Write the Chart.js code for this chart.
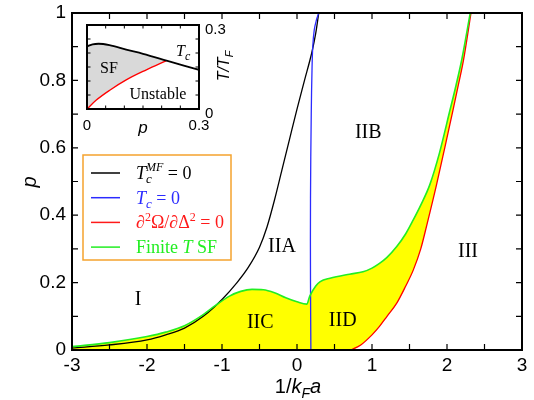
<!DOCTYPE html>
<html>
<head>
<meta charset="utf-8">
<script src="https://cdn.jsdelivr.net/npm/chart.js@4.4.1/dist/chart.umd.min.js"></script>
<style>
  body { margin: 0; background: #fff; }
  #wrap { position: relative; width: 534px; height: 400px; }
  #wrap canvas { position: absolute; left: 0; top: 0; }
</style>
</head>
<body>
<div id="wrap">
  <canvas id="phase" width="534" height="400"></canvas>
  <canvas id="inset" width="534" height="400"></canvas>
</div>
<script>
// main diagram, p against 1/kFa
const blackX = [-3, -2.5, -2, -1.75, -1.5, -1.25, -1, -0.8, -0.65, -0.5, -0.4, -0.3, -0.2, -0.1, 0, 0.1, 0.2, 0.25, 0.29];
const blackP = [0.006, 0.015, 0.03, 0.045, 0.065, 0.1, 0.15, 0.2, 0.245, 0.305, 0.365, 0.445, 0.535, 0.625, 0.715, 0.8, 0.885, 0.94, 1.0];

const blueX = [0.185, 0.18, 0.18, 0.19, 0.2, 0.21, 0.23, 0.26, 0.29];
const blueP = [0, 0.2, 0.45, 0.7, 0.83, 0.9, 0.95, 0.98, 1.0];

const redX = [0.72, 0.85, 1.0, 1.1, 1.2, 1.33, 1.45, 1.55, 1.65, 1.73, 1.86, 1.97, 2.08, 2.15, 2.22, 2.32];
const redP = [0, 0.015, 0.045, 0.07, 0.1, 0.139, 0.19, 0.237, 0.3, 0.37, 0.49, 0.6, 0.712, 0.785, 0.86, 1.0];

const greenX = [-3, -2.5, -2, -1.75, -1.5, -1.25, -1.1, -0.9, -0.75, -0.6, -0.45, -0.3, -0.15, 0, 0.13, 0.17, 0.25, 0.31, 0.44, 0.7, 0.88, 1.0, 1.1, 1.2, 1.33, 1.45, 1.55, 1.65, 1.77, 1.9, 2.04, 2.12, 2.2, 2.31];
const greenP = [0.01, 0.022, 0.04, 0.053, 0.072, 0.105, 0.13, 0.16, 0.174, 0.18, 0.179, 0.17, 0.155, 0.143, 0.136, 0.16, 0.19, 0.203, 0.213, 0.225, 0.232, 0.243, 0.257, 0.275, 0.307, 0.345, 0.386, 0.43, 0.49, 0.585, 0.712, 0.785, 0.865, 1.0];

const regionNames = ['I', 'IIA', 'IIB', 'IIC', 'IID', 'III'];
const regionX = [-2.12, -0.2, 0.95, -0.49, 0.61, 2.28];
const regionP = [0.148, 0.307, 0.645, 0.08, 0.086, 0.292];

const xLabels = [-3, -2, -1, 0, 1, 2, 3];
const yLabels = [0, 0.2, 0.4, 0.6, 0.8, 1];
const xTickMarks = [-3, -2.5, -2, -1.5, -1, -0.5, 0, 0.5, 1, 1.5, 2, 2.5, 3];
const yTickMarks = [0, 0.1, 0.2, 0.3, 0.4, 0.5, 0.6, 0.7, 0.8, 0.9, 1];

// inset, T/TF against p
const tcP = [0, 0.015, 0.031, 0.06, 0.105, 0.15, 0.213, 0.257, 0.3];
const tcT = [0.224, 0.231, 0.233, 0.228, 0.212, 0.197, 0.173, 0.156, 0.14];
const spinP = [0, 0.025, 0.062, 0.105, 0.159, 0.213];
const spinT = [0, 0.032, 0.068, 0.104, 0.14, 0.173];
const insetTickMarks = [0, 0.05, 0.1, 0.15, 0.2, 0.25, 0.3];
const insetLabels = [0, 0.3];

const SANS = '"Liberation Sans", Arial, Helvetica, sans-serif';
const SERIF = '"Liberation Serif", "Times New Roman", serif';

const pts = (xs, ys) => xs.map((v, i) => ({ x: v, y: ys[i] }));

function richText(ctx, x, y, parts, color) {
  ctx.fillStyle = color;
  ctx.textAlign = 'left';
  ctx.textBaseline = 'alphabetic';
  let cx = x;
  parts.forEach(p => {
    ctx.font = (p.it ? 'italic ' : '') + (p.size || 18) + 'px ' + (p.fam || SERIF);
    ctx.fillText(p.t, cx, y + (p.dy || 0));
    if (!p.keep) cx += ctx.measureText(p.t).width;
  });
  return cx - x;
}

const legendRows = [
  { color: '#000000', parts: [{ t: 'T', it: 1 }, { t: 'c', it: 1, size: 13, dy: 4, keep: 1 }, { t: 'MF', it: 1, size: 12, dy: -8 }, { t: ' = 0' }] },
  { color: '#2b2bff', parts: [{ t: 'T', it: 1 }, { t: 'c', it: 1, size: 13, dy: 4 }, { t: ' = 0' }] },
  { color: '#ff1a1a', parts: [{ t: '\u2202' }, { t: '2', size: 12, dy: -7 }, { t: '\u03A9/\u2202\u0394' }, { t: '2', size: 12, dy: -7 }, { t: ' = 0' }] },
  { color: '#22ee22', parts: [{ t: 'Finite ' }, { t: 'T', it: 1 }, { t: ' SF' }] }
];

const frameAndMarks = {
  id: 'frameAndMarks',
  afterDatasetsDraw(chart) {
    const { ctx, chartArea: a, scales: { x, y } } = chart;
    ctx.save();
    // inward ticks on all four sides
    ctx.strokeStyle = '#000';
    ctx.lineWidth = 1.2;
    ctx.beginPath();
    xTickMarks.forEach(v => {
      const px = x.getPixelForValue(v);
      ctx.moveTo(px, a.bottom); ctx.lineTo(px, a.bottom - 6);
      ctx.moveTo(px, a.top); ctx.lineTo(px, a.top + 6);
    });
    yTickMarks.forEach(v => {
      const py = y.getPixelForValue(v);
      ctx.moveTo(a.left, py); ctx.lineTo(a.left + 6, py);
      ctx.moveTo(a.right, py); ctx.lineTo(a.right - 6, py);
    });
    ctx.stroke();
    ctx.lineWidth = 2;
    ctx.strokeRect(a.left, a.top, a.right - a.left, a.bottom - a.top);

    // region names
    ctx.fillStyle = '#000';
    ctx.font = '20px ' + SERIF;
    ctx.textAlign = 'center';
    ctx.textBaseline = 'middle';
    regionNames.forEach((n, i) => {
      ctx.fillText(n, x.getPixelForValue(regionX[i]), y.getPixelForValue(regionP[i]));
    });

    // legend box
    ctx.fillStyle = '#fff';
    ctx.fillRect(83, 155, 148, 105);
    ctx.strokeStyle = '#f5a32e';
    ctx.lineWidth = 1.5;
    ctx.strokeRect(83, 155, 148, 105);
    legendRows.forEach((r, i) => {
      const ly = 173 + i * 24.7;
      ctx.strokeStyle = r.color;
      ctx.lineWidth = 1.5;
      ctx.beginPath();
      ctx.moveTo(91, ly); ctx.lineTo(120, ly);
      ctx.stroke();
      richText(ctx, 136, ly + 6, r.parts, r.color);
    });

    // axis titles
    const xt = [{ t: '1/', size: 20, fam: SANS }, { t: 'k', it: 1, size: 20, fam: SANS }, { t: 'F', it: 1, size: 14, dy: 5, fam: SANS }, { t: 'a', it: 1, size: 20, fam: SANS }];
    ctx.globalAlpha = 0;
    const w = richText(ctx, 0, -100, xt, '#000');
    ctx.globalAlpha = 1;
    richText(ctx, 298 - w / 2, 393, xt, '#000');

    ctx.translate(30, 182);
    ctx.rotate(-Math.PI / 2);
    ctx.fillStyle = '#000';
    ctx.font = 'italic 20px ' + SANS;
    ctx.textAlign = 'center';
    ctx.textBaseline = 'middle';
    ctx.fillText('p', 0, 0);
    ctx.restore();
  }
};

new Chart(document.getElementById('phase'), {
  type: 'line',
  data: {
    datasets: [
      { label: 'Finite T SF', data: pts(greenX, greenP), borderColor: '#22ee22', borderWidth: 1.6,
        fill: { target: 4, above: '#ffff00', below: '#ffff00' }, cubicInterpolationMode: 'monotone' },
      { label: 'd2Omega', data: pts(redX, redP), borderColor: '#ff0000', borderWidth: 1.3, cubicInterpolationMode: 'monotone' },
      { label: 'Tc = 0', data: pts(blueX, blueP), borderColor: '#2b2bff', borderWidth: 1.3, tension: 0.4 },
      { label: 'TcMF = 0', data: pts(blackX, blackP), borderColor: '#000000', borderWidth: 1.3, cubicInterpolationMode: 'monotone' },
      { label: 'lower', data: pts([-3, ...redX], [0, ...redP]), borderColor: 'rgba(0,0,0,0)', borderWidth: 0, cubicInterpolationMode: 'monotone' }
    ]
  },
  options: {
    responsive: false,
    animation: false,
    devicePixelRatio: 1,
    events: [],
    layout: { padding: { top: 13, right: 12, left: 0, bottom: 0 } },
    elements: { point: { radius: 0 } },
    plugins: {
      legend: { display: false },
      tooltip: { enabled: false },
      filler: { drawTime: 'beforeDatasetsDraw' }
    },
    scales: {
      x: {
        type: 'linear', min: -3, max: 3,
        afterBuildTicks: s => { s.ticks = xLabels.map(v => ({ value: v })); },
        afterFit: s => { s.height = 50; s.paddingLeft = 0; s.paddingRight = 0; },
        grid: { display: false, drawTicks: false },
        border: { display: false },
        ticks: { font: { family: SANS, size: 19 }, color: '#000', padding: 4, maxRotation: 0, autoSkip: false, callback: v => String(v) }
      },
      y: {
        type: 'linear', min: 0, max: 1,
        afterBuildTicks: s => { s.ticks = yLabels.map(v => ({ value: v })); },
        afterFit: s => { s.width = 72; s.paddingTop = 0; s.paddingBottom = 0; },
        grid: { display: false, drawTicks: false },
        border: { display: false },
        ticks: { font: { family: SANS, size: 19 }, color: '#000', padding: 6, autoSkip: false, callback: v => String(v) }
      }
    }
  },
  plugins: [frameAndMarks]
});

const insetMarks = {
  id: 'insetMarks',
  beforeDraw(chart) {
    const { ctx, chartArea: a } = chart;
    ctx.save();
    ctx.fillStyle = '#fff';
    ctx.fillRect(a.left, a.top, a.right - a.left, a.bottom - a.top);
    ctx.restore();
  },
  afterDatasetsDraw(chart) {
    const { ctx, chartArea: a, scales: { x, y } } = chart;
    ctx.save();
    ctx.strokeStyle = '#000';
    ctx.lineWidth = 1;
    ctx.beginPath();
    insetTickMarks.forEach(v => {
      const px = x.getPixelForValue(v), py = y.getPixelForValue(v);
      ctx.moveTo(px, a.bottom); ctx.lineTo(px, a.bottom - 3.5);
      ctx.moveTo(px, a.top); ctx.lineTo(px, a.top + 3.5);
      ctx.moveTo(a.left, py); ctx.lineTo(a.left + 3.5, py);
      ctx.moveTo(a.right, py); ctx.lineTo(a.right - 3.5, py);
    });
    ctx.stroke();
    ctx.lineWidth = 2;
    ctx.strokeRect(a.left, a.top, a.right - a.left, a.bottom - a.top);

    ctx.fillStyle = '#000';
    ctx.font = '15px ' + SANS;
    ctx.textBaseline = 'alphabetic';
    ctx.textAlign = 'center';
    insetLabels.forEach(v => ctx.fillText(String(v), x.getPixelForValue(v), a.bottom + 21));
    ctx.textAlign = 'left';
    insetLabels.forEach(v => ctx.fillText(String(v), a.right + 6, y.getPixelForValue(v) + 9));

    ctx.font = 'italic 17px ' + SANS;
    ctx.textAlign = 'center';
    ctx.fillText('p', x.getPixelForValue(0.15), a.bottom + 24);

    ctx.fillStyle = '#000';
    ctx.font = '16px ' + SERIF;
    ctx.fillText('SF', 109, 73);
    ctx.fillText('Unstable', 158, 99);
    richText(ctx, 176, 56, [{ t: 'T', it: 1, size: 16 }, { t: 'c', it: 1, size: 12, dy: 4 }], '#000');

    ctx.translate(229, 66);
    ctx.rotate(-Math.PI / 2);
    const tt = [{ t: 'T/T', it: 1, size: 16, fam: SANS }, { t: 'F', it: 1, size: 11, dy: 4, fam: SANS }];
    ctx.globalAlpha = 0;
    const w = richText(ctx, 0, -100, tt, '#000');
    ctx.globalAlpha = 1;
    richText(ctx, -w / 2, 0, tt, '#000');
    ctx.restore();
  }
};

new Chart(document.getElementById('inset'), {
  type: 'line',
  data: {
    datasets: [
      { label: 'Tc', data: pts(tcP, tcT), borderColor: '#000', borderWidth: 1.8, cubicInterpolationMode: 'monotone' },
      { label: 'unstable', data: pts(spinP, spinT), borderColor: '#ff0000', borderWidth: 1.3,
        fill: { target: 0, above: '#d9d9d9', below: '#d9d9d9' }, cubicInterpolationMode: 'monotone' }
    ]
  },
  options: {
    responsive: false,
    animation: false,
    devicePixelRatio: 1,
    events: [],
    layout: { padding: { left: 87, top: 25, right: 335, bottom: 291 } },
    elements: { point: { radius: 0 } },
    plugins: {
      legend: { display: false },
      tooltip: { enabled: false },
      filler: { drawTime: 'beforeDatasetsDraw' }
    },
    scales: {
      x: { type: 'linear', min: 0, max: 0.3, display: false },
      y: { type: 'linear', min: 0, max: 0.3, display: false }
    }
  },
  plugins: [insetMarks]
});
</script>
</body>
</html>
